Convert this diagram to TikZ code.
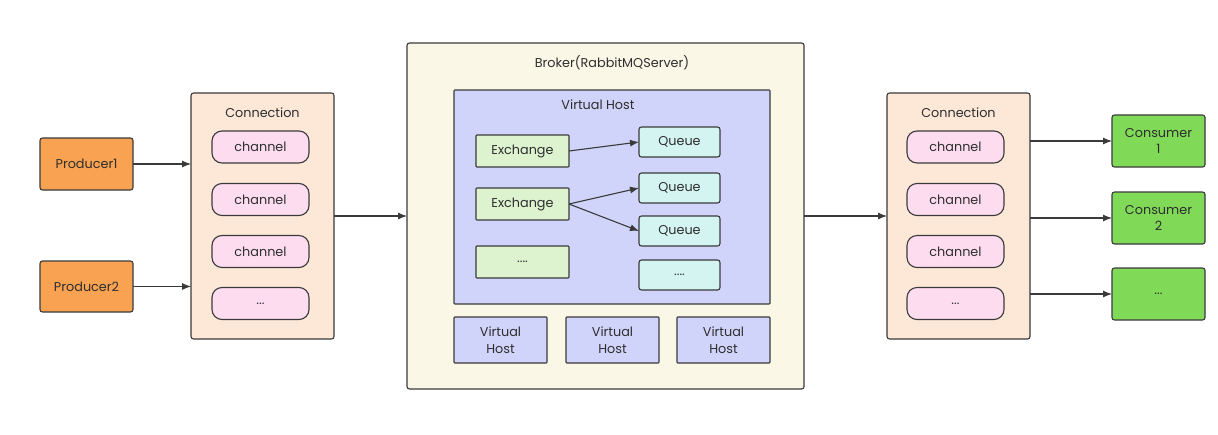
\documentclass[tikz,border=0pt]{standalone}
\usepackage{fontspec}
\setmainfont{Poppins}
\usetikzlibrary{arrows.meta}
\definecolor{prodc}{HTML}{F9A252}
\definecolor{connc}{HTML}{FDE8D8}
\definecolor{chanc}{HTML}{FDDCF0}
\definecolor{brokc}{HTML}{FAF7E6}
\definecolor{vhc}{HTML}{D0D4FA}
\definecolor{exc}{HTML}{DDF2CF}
\definecolor{quc}{HTML}{D4F4F2}
\definecolor{consc}{HTML}{80D957}
\definecolor{linec}{HTML}{3A3A3A}
\definecolor{textc}{HTML}{2E2E2E}
\begin{document}
\begin{tikzpicture}[x=1pt,y=-1pt,
  base/.style={draw=linec,line width=1.1pt,rounded corners=2.5pt,inner sep=0pt,outer sep=0pt,
    text=textc,font=\fontsize{12.8}{16.5}\selectfont,align=center},
  prod/.style={base,fill=prodc,minimum width=93pt,minimum height=52pt},
  cons/.style={base,fill=consc,minimum width=93pt,minimum height=52pt},
  conn/.style={base,fill=connc,minimum width=143pt,minimum height=246pt},
  chan/.style={base,fill=chanc,rounded corners=10pt,minimum width=97pt,minimum height=32pt},
  brok/.style={base,fill=brokc,minimum width=397pt,minimum height=346pt},
  vh/.style={base,fill=vhc,rounded corners=0.8pt},
  ex/.style={base,fill=exc,rounded corners=0.8pt,minimum width=93pt,minimum height=32pt},
  qu/.style={base,fill=quc,minimum width=81pt,minimum height=30pt},
  lbl/.style={text=textc,font=\fontsize{12.8}{16.5}\selectfont,inner sep=0pt},
  arr/.style={draw=linec,line width=1.1pt,-{Latex[length=9pt,width=7pt]}}
]
\useasboundingbox[fill=white] (0,0) rectangle (1218,434);

% left side
\node[prod] (p1) at (86.5,164) {Producer1};
\node[prod,minimum height=51pt] (p2) at (86.5,286.5) {Producer2};
\node[conn] (cl) at (262.5,216) {};
\node[lbl] (cllbl) at (262.5,113) {Connection};
\node[chan] (cl1) at (260.5,147) {channel};
\node[chan] (cl2) at (260.5,199.5) {channel};
\node[chan] (cl3) at (260.5,251.5) {channel};
\node[chan] (cl4) at (260.5,303.5) {...};

% broker
\node[brok] (br) at (605.5,216) {};
\node[lbl] (brlbl) at (612,63) {Broker(RabbitMQServer)};
\node[vh,minimum width=316pt,minimum height=214pt] (vh) at (612,197) {};
\node[lbl] (vhlbl) at (598,105) {Virtual Host};
\node[ex] (e1) at (522.5,151) {Exchange};
\node[ex] (e2) at (522.5,204) {Exchange};
\node[ex] (e3) at (522.5,262) {....};
\node[qu] (q1) at (679.5,142) {Queue};
\node[qu] (q2) at (679.5,188) {Queue};
\node[qu] (q3) at (679.5,231) {Queue};
\node[qu] (q4) at (679.5,275) {....};
\node[vh,minimum width=93pt,minimum height=46pt] (v1) at (500.5,340) {Virtual\\Host};
\node[vh,minimum width=93pt,minimum height=46pt] (v2) at (612.5,340) {Virtual\\Host};
\node[vh,minimum width=93pt,minimum height=46pt] (v3) at (723.5,340) {Virtual\\Host};

% right side
\node[conn] (cr) at (958.5,216) {};
\node[lbl] (crlbl) at (958.5,113) {Connection};
\node[chan] (cr1) at (955.5,147) {channel};
\node[chan] (cr2) at (955.5,199.5) {channel};
\node[chan] (cr3) at (955.5,251.5) {channel};
\node[chan] (cr4) at (955.5,303.5) {...};
\node[cons] (c1) at (1158.5,141) {Consumer\\1};
\node[cons] (c2) at (1158.5,218) {Consumer\\2};
\node[cons] (c3) at (1158.5,294) {...};

% connectors
\draw[arr] (p1.east) -- (p1.east -| cl.west);
\draw[arr] (p2.east) -- (p2.east -| cl.west);
\draw[arr] (cl.east) -- (br.west);
\draw[arr] (br.east) -- (cr.west);
\draw[arr] (c1.west -| cr.east) -- (c1.west);
\draw[arr] (c2.west -| cr.east) -- (c2.west);
\draw[arr] (c3.west -| cr.east) -- (c3.west);
\draw[arr] (e1.east) -- (q1.west);
\draw[arr] (e2.east) -- (q2.west);
\draw[arr] (e2.east) -- (q3.west);
\end{tikzpicture}
\end{document}
